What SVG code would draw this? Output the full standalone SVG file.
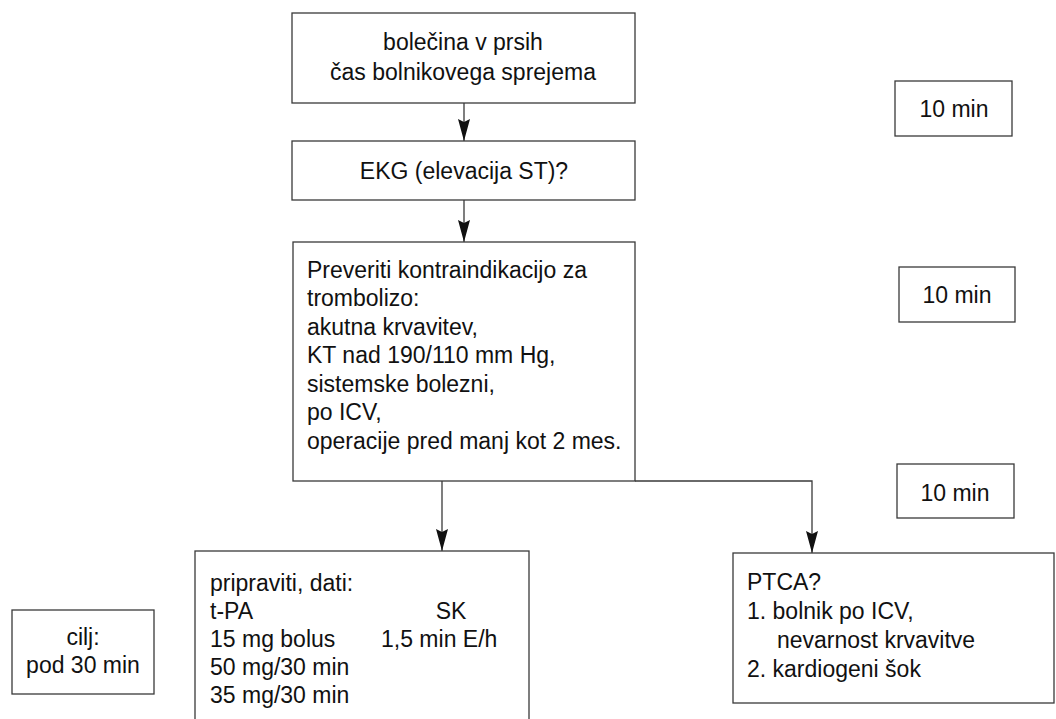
<svg xmlns="http://www.w3.org/2000/svg" width="1056" height="719" viewBox="0 0 1056 719">
<style>
  .box { fill: #fff; stroke: #3a3a3a; stroke-width: 1.3; }
  .t { font-family: "Liberation Sans", Arial, sans-serif; font-size: 23px; fill: #111; }
  .c { text-anchor: middle; }
  .conn { fill: none; stroke: #3a3a3a; stroke-width: 1.3; }
</style>
<defs>
  <marker id="arr" markerUnits="userSpaceOnUse" markerWidth="26" markerHeight="16" viewBox="-24 -8 26 16" refX="0" refY="0" orient="auto">
    <path d="M0,0 L-22,-6 L-19,0 L-22,6 Z" fill="#111"/>
  </marker>
</defs>
<rect width="1056" height="719" fill="#fff"/>

<g id="connectors">
  <path class="conn" d="M464,103 V141" marker-end="url(#arr)"/>
  <path class="conn" d="M464,200 V242" marker-end="url(#arr)"/>
  <path class="conn" d="M442,481 V551" marker-end="url(#arr)"/>
  <path class="conn" d="M635,481 H812 V553" marker-end="url(#arr)"/>
</g>

<g id="n-start">
  <rect class="box" x="292" y="13" width="343" height="90"/>
  <text class="t c" x="463" y="50">bolečina v prsih</text>
  <text class="t c" x="463" y="80">čas bolnikovega sprejema</text>
</g>

<g id="n-ekg">
  <rect class="box" x="292" y="141" width="343" height="59"/>
  <text class="t c" x="464" y="179">EKG (elevacija ST)?</text>
</g>

<g id="n-check">
  <rect class="box" x="293" y="242" width="342" height="239"/>
  <text class="t" x="307" y="278">Preveriti kontraindikacijo za</text>
  <text class="t" x="307" y="306">trombolizo:</text>
  <text class="t" x="307" y="335">akutna krvavitev,</text>
  <text class="t" x="307" y="363">KT nad 190/110 mm Hg,</text>
  <text class="t" x="307" y="392">sistemske bolezni,</text>
  <text class="t" x="307" y="420">po ICV,</text>
  <text class="t" x="307" y="449">operacije pred manj kot 2 mes.</text>
</g>

<g id="n-time1">
  <rect class="box" x="895" y="81" width="117" height="55"/>
  <text class="t c" x="954" y="117">10 min</text>
</g>
<g id="n-time2">
  <rect class="box" x="899" y="267" width="116" height="55"/>
  <text class="t c" x="957" y="303">10 min</text>
</g>
<g id="n-time3">
  <rect class="box" x="897" y="464" width="117" height="54"/>
  <text class="t c" x="955" y="501">10 min</text>
</g>

<g id="n-lysis">
  <rect class="box" x="195" y="551" width="334" height="180"/>
  <text class="t" x="210" y="591">pripraviti, dati:</text>
  <text class="t" x="210" y="619">t-PA</text>
  <text class="t c" x="451" y="619">SK</text>
  <text class="t" x="210" y="647">15 mg bolus</text>
  <text class="t" x="381" y="647">1,5 min E/h</text>
  <text class="t" x="210" y="675">50 mg/30 min</text>
  <text class="t" x="210" y="703">35 mg/30 min</text>
</g>

<g id="n-ptca">
  <rect class="box" x="733" y="553" width="321" height="150"/>
  <text class="t" x="747" y="590">PTCA?</text>
  <text class="t" x="747" y="619">1. bolnik po ICV,</text>
  <text class="t" x="777" y="648">nevarnost krvavitve</text>
  <text class="t" x="747" y="677">2. kardiogeni šok</text>
</g>

<g id="n-goal">
  <rect class="box" x="12" y="610" width="142" height="84"/>
  <text class="t c" x="83" y="645">cilj:</text>
  <text class="t c" x="83" y="673">pod 30 min</text>
</g>
</svg>
